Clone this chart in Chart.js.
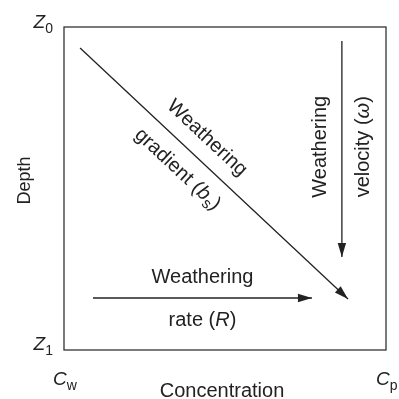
<!DOCTYPE html>
<html>
<head>
<meta charset="utf-8">
<script src="https://cdn.jsdelivr.net/npm/chart.js@4"></script>
<style>
  html, body { margin: 0; padding: 0; background: #fff; }
  canvas { display: block; }
</style>
</head>
<body>
<canvas id="chart" width="399" height="399"></canvas>
<script>
// concentration runs 0 (Cw) .. 1 (Cp), depth runs 0 (Z0) .. 1 (Z1)
const gradientX = [0.05, 0.882];
const gradientY = [0.065, 0.842];
const velocityX = [0.863, 0.863];
const velocityY = [0.043, 0.712];
const rateX = [0.09, 0.77];
const rateY = [0.839, 0.839];

// text pieces: i = italic, sub = subscript
const gradientText = [
  [{ t: "Weathering" }],
  [{ t: "gradient (" }, { t: "b", i: 1 }, { t: "s", sub: 1 }, { t: ")" }],
];
const velocityText = [
  [{ t: "Weathering" }],
  [{ t: "velocity (" }, { t: "\u03c9", i: 1 }, { t: ")" }],
];
const rateText = [
  [{ t: "Weathering" }],
  [{ t: "rate (" }, { t: "R", i: 1 }, { t: ")" }],
];
const depthTicks = [
  [{ t: "Z", i: 1 }, { t: "0", sub: 1 }],
  [{ t: "Z", i: 1 }, { t: "1", sub: 1 }],
];
const concTicks = [
  [{ t: "C", i: 1 }, { t: "w", sub: 1 }],
  [{ t: "C", i: 1 }, { t: "p", sub: 1 }],
];
const xTitle = "Concentration";
const yTitle = "Depth";

const FONT = '"Liberation Sans", Arial, sans-serif';
const INK = "#222";

function toPoints(xs, ys) {
  return xs.map((x, i) => ({ x: x, y: ys[i] }));
}

function partFont(p, size) {
  const s = p.sub ? Math.round(size * 0.74) : size;
  return (p.i ? "italic " : "") + s + "px " + FONT;
}

function richWidth(ctx, parts, size) {
  let w = 0;
  parts.forEach((p) => {
    ctx.font = partFont(p, size);
    w += ctx.measureText(p.t).width;
  });
  return w;
}

// draws a run of mixed text; align = left | center | right
function drawRich(ctx, parts, x, y, size, align) {
  const w = richWidth(ctx, parts, size);
  let cx = align === "center" ? x - w / 2 : align === "right" ? x - w : x;
  parts.forEach((p) => {
    ctx.font = partFont(p, size);
    ctx.fillText(p.t, cx, p.sub ? y + size * 0.28 : y);
    cx += ctx.measureText(p.t).width;
  });
}

const arrowLabels = [
  { text: gradientText, at: 0.42 },
  { text: velocityText, at: 0.49 },
  { text: rateText, at: 0.5 },
];

const diagramPlugin = {
  id: "diagram",
  afterDatasetsDraw(chart) {
    const ctx = chart.ctx;
    const area = chart.chartArea;
    const xs = chart.scales.x;
    const ys = chart.scales.y;
    ctx.save();

    // frame
    ctx.strokeStyle = "#333";
    ctx.lineWidth = 1.3;
    ctx.strokeRect(area.left, area.top, area.right - area.left, area.bottom - area.top);

    ctx.fillStyle = INK;
    chart.data.datasets.forEach((ds, k) => {
      const n = ds.data.length;
      const a = ds.data[n - 2];
      const b = ds.data[n - 1];
      const x0 = xs.getPixelForValue(a.x), y0 = ys.getPixelForValue(a.y);
      const x1 = xs.getPixelForValue(b.x), y1 = ys.getPixelForValue(b.y);
      const ang = Math.atan2(y1 - y0, x1 - x0);

      // arrow head
      ctx.save();
      ctx.translate(x1, y1);
      ctx.rotate(ang);
      ctx.beginPath();
      ctx.moveTo(0, 0);
      ctx.lineTo(-14, -4.2);
      ctx.lineTo(-14, 4.2);
      ctx.closePath();
      ctx.fill();
      ctx.restore();

      // labels either side of the arrow
      const lab = arrowLabels[k];
      const fx = xs.getPixelForValue(ds.data[0].x);
      const fy = ys.getPixelForValue(ds.data[0].y);
      const cx = fx + (x1 - fx) * lab.at;
      const cy = fy + (y1 - fy) * lab.at;
      let rot = ang;
      if (Math.abs(ang) > 1.2) rot = ang - Math.PI;
      ctx.save();
      ctx.translate(cx, cy);
      ctx.rotate(rot);
      ctx.textBaseline = "middle";
      drawRich(ctx, lab.text[0], 0, -21, 20, "center");
      drawRich(ctx, lab.text[1], 0, 22, 20, "center");
      ctx.restore();
    });

    // axis end labels
    ctx.textBaseline = "alphabetic";
    drawRich(ctx, depthTicks[0], area.left - 11, ys.getPixelForValue(0) + 1, 19, "right");
    drawRich(ctx, depthTicks[1], area.left - 11, ys.getPixelForValue(1), 19, "right");
    drawRich(ctx, concTicks[0], xs.getPixelForValue(0) - 11, area.bottom + 35, 19, "left");
    drawRich(ctx, concTicks[1], xs.getPixelForValue(1) - 10, area.bottom + 35, 19, "left");

    // axis titles
    ctx.font = "20px " + FONT;
    ctx.textAlign = "center";
    ctx.fillText(xTitle, (area.left + area.right) / 2 - 3, area.bottom + 47);
    ctx.font = "18px " + FONT;
    ctx.save();
    ctx.translate(30, (area.top + area.bottom) / 2 - 8);
    ctx.rotate(-Math.PI / 2);
    ctx.fillText(yTitle, 0, 0);
    ctx.restore();

    ctx.restore();
  },
};

const lineStyle = {
  showLine: true,
  borderColor: INK,
  borderWidth: 1.3,
  pointRadius: 0,
  fill: false,
};

new Chart(document.getElementById("chart"), {
  type: "scatter",
  data: {
    datasets: [
      { label: "gradient", data: toPoints(gradientX, gradientY), ...lineStyle },
      { label: "velocity", data: toPoints(velocityX, velocityY), ...lineStyle },
      { label: "rate", data: toPoints(rateX, rateY), ...lineStyle },
    ],
  },
  options: {
    responsive: false,
    animation: false,
    layout: {
      padding: { left: 64, top: 27, right: 13, bottom: 49 },
    },
    scales: {
      x: { type: "linear", min: 0, max: 1, display: false },
      y: { type: "linear", min: 0, max: 1, reverse: true, display: false },
    },
    plugins: {
      legend: { display: false },
      tooltip: { enabled: false },
    },
  },
  plugins: [diagramPlugin],
});
</script>
</body>
</html>
